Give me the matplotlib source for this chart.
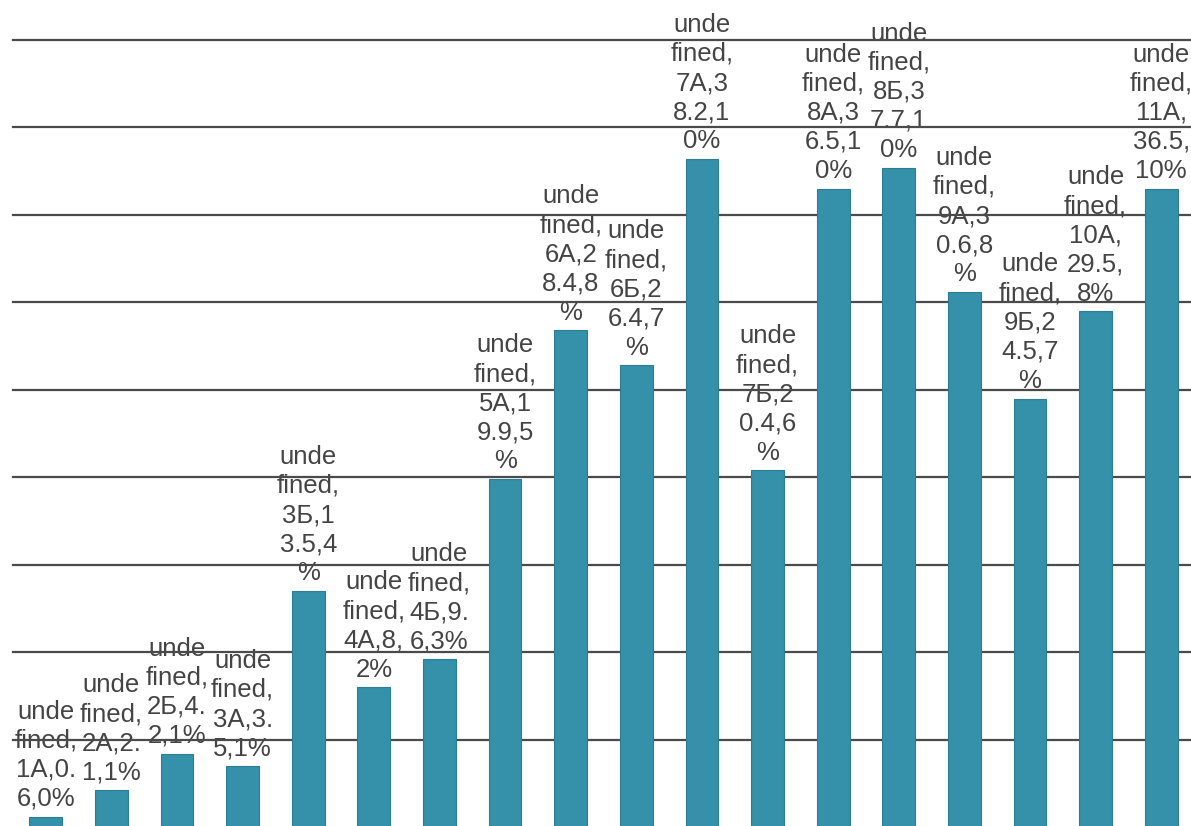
import matplotlib
matplotlib.use("Agg")
import matplotlib.pyplot as plt
from matplotlib.font_manager import FontProperties
from matplotlib.textpath import TextToPath

# Data
classes = ["1A", "2A", "2Б", "3A", "3Б", "4A", "4Б", "5A", "6A", "6Б",
           "7A", "7Б", "8A", "8Б", "9A", "9Б", "10A", "11A"]
values = [0.6, 2.1, 4.2, 3.5, 13.5, 8, 9.6, 19.9, 28.4, 26.4,
          38.2, 20.4, 36.5, 37.7, 30.6, 24.5, 29.5, 36.5]
percents = [0, 1, 1, 1, 4, 2, 3, 5, 8, 7, 10, 6, 10, 10, 8, 7, 8, 10]
series_name = "undefined"

FONT = "Liberation Sans"
ttp = TextToPath()
measure_fp = FontProperties(family=FONT, size=100)


def text_w(s):
    w, h, d = ttp.get_text_width_height_descent(s, measure_fp, ismath=False)
    return w


def char_wrap(s, limit=247.5):
    # greedy character wrapping, like the narrow Excel data labels
    lines = []
    cur = ""
    for ch in s:
        if cur and text_w(cur + ch) > limit:
            lines.append(cur)
            cur = ch
        else:
            cur += ch
    if cur:
        lines.append(cur)
    return "\n".join(lines)


W, H = 1191, 826
fig = plt.figure(figsize=(W / 100, H / 100), dpi=100)
ax = fig.add_axes([13 / W, -1 / H, 1181 / W, 787 / H])

x = list(range(len(classes)))
ax.bar(x, values, width=0.5, color="#3590a9", edgecolor="#2c7d94",
       linewidth=0.8, zorder=3)

for yv in range(5, 50, 5):
    ax.axhline(yv, color="#4a4a4a", linewidth=1.6, zorder=2, clip_on=False)

for xi, c, v, p in zip(x, classes, values, percents):
    label = char_wrap(f"{series_name},{c},{v:g},{p}%")
    ax.annotate(label, (xi, v), xytext=(0, 4), textcoords="offset points",
                ha="center", va="bottom", fontsize=18.5, family=FONT,
                color="#444444", linespacing=1.27, zorder=1,
                annotation_clip=False)

ax.set_xlim(-0.5, len(classes) - 0.5)
ax.set_ylim(0, 45)
ax.axis("off")

fig.savefig("out.png", dpi=100)
